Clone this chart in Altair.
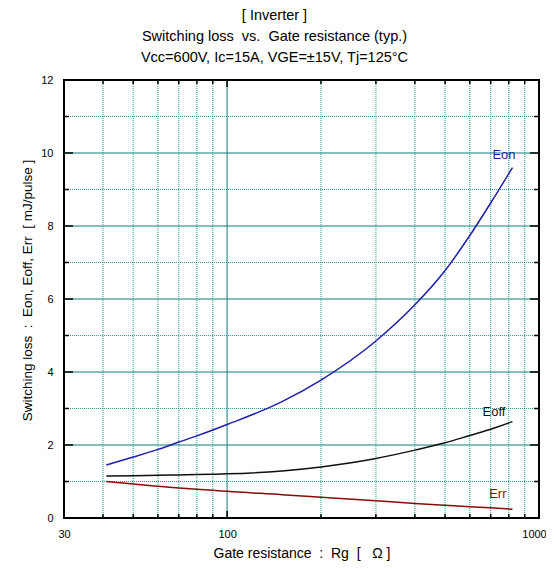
import altair as alt
import pandas as pd

# ---- data ----
rg = [41, 50, 60, 70, 80, 90, 100, 150, 200, 300, 400, 500, 600, 700, 822]
eon = [1.45, 1.67, 1.88, 2.08, 2.25, 2.41, 2.56, 3.19, 3.78, 4.85, 5.84, 6.78, 7.74, 8.63, 9.60]
eoff = [1.15, 1.16, 1.17, 1.18, 1.19, 1.20, 1.21, 1.29, 1.40, 1.63, 1.86, 2.06, 2.26, 2.43, 2.64]
err = [1.00, 0.93, 0.87, 0.82, 0.79, 0.76, 0.73, 0.64, 0.57, 0.47, 0.40, 0.35, 0.31, 0.28, 0.24]

series_names = ["Eon", "Eoff", "Err"]
series_colors = ["#1f1fae", "#111111", "#8b0a0a"]
label_x = [772, 717, 738]
label_y = [9.95, 2.9, 0.66]

x_tick_labels = [30, 100, 1000]
y_tick_labels = [0, 2, 4, 6, 8, 10, 12]
y_major = [2, 4, 6, 8, 10]
y_minor = [1, 3, 5, 7, 9, 11]
x_minor = [40, 50, 60, 70, 80, 90, 200, 300, 400, 500, 600, 700, 800, 900]
x_major = [100]

W, H = 475, 438
FONT = "Liberation Sans"
TEAL = "#0f7f7f"
TEAL_DOT = "#2a9a9a"

rows = []
for name, vals in zip(series_names, [eon, eoff, err]):
    for xv, yv in zip(rg, vals):
        rows.append({"Rg": xv, "E": yv, "series": name})
df = pd.DataFrame(rows)
labels_df = pd.DataFrame({"Rg": label_x, "E": label_y, "series": series_names})

xs = alt.Scale(type="log", domain=[30, 1000], nice=False)
ys = alt.Scale(domain=[0, 12], nice=False, zero=False)
color_scale = alt.Scale(domain=series_names, range=series_colors)

X_AXIS = alt.Axis(values=x_tick_labels, format="d", grid=False, ticks=False, domain=False,
                  labelFlush=False,
                  labelOffset={"condition": {"test": "datum.value >= 1000", "value": -5}, "value": 0},
                  labelFontSize=11, labelFont=FONT, labelColor="black", labelPadding=10,
                  title="Gate resistance\u00a0\u00a0:\u00a0\u00a0Rg\u00a0\u00a0[\u00a0\u00a0\u00a0\u03a9\u00a0]",
                  titleFont=FONT, titleFontSize=14, titleFontWeight="normal",
                  titleColor="black", titlePadding=7)
Y_AXIS = alt.Axis(values=y_tick_labels, grid=False, ticks=False, domain=False,
                  labelFlush=False,
                  labelFontSize=11, labelFont=FONT, labelColor="black", labelPadding=11,
                  title="Switching loss\u00a0\u00a0:\u00a0\u00a0Eon,\u00a0Eoff,\u00a0Err\u00a0\u00a0[\u00a0mJ/pulse\u00a0]",
                  titleFont=FONT, titleFontSize=13.5, titleFontWeight="normal",
                  titleColor="black", titleAngle=270, titleAlign="center",
                  titleBaseline="middle", titleX=-37, titleY=210)

def X(field="Rg:Q"):
    return alt.X(field, scale=xs, axis=X_AXIS)

def Y(field="E:Q"):
    return alt.Y(field, scale=ys, axis=Y_AXIS)

ymaj = pd.DataFrame({"E": y_major})
ymin = pd.DataFrame({"E": y_minor})
xmin = pd.DataFrame({"Rg": x_minor})
xmaj = pd.DataFrame({"Rg": x_major})

h_solid = alt.Chart(ymaj).mark_rule(color=TEAL, strokeWidth=1).encode(y=Y())
h_dot = alt.Chart(ymin).mark_rule(color=TEAL_DOT, strokeWidth=1, strokeDash=[1, 1]).encode(y=Y())
v_dot = alt.Chart(xmin).mark_rule(color=TEAL_DOT, strokeWidth=1, strokeDash=[1, 1]).encode(x=X())
v_solid = alt.Chart(xmaj).mark_rule(color=TEAL, strokeWidth=1).encode(x=X())

def yticks(data, length):
    left = alt.Chart(data).mark_rule(color="black", strokeWidth=1.5).encode(
        y=Y(), x=alt.value(0), x2=alt.value(length))
    right = alt.Chart(data).mark_rule(color="black", strokeWidth=1.5).encode(
        y=Y(), x=alt.value(W), x2=alt.value(W - length))
    return [left, right]

def xticks(data, length):
    bottom = alt.Chart(data).mark_rule(color="black", strokeWidth=1.5).encode(
        x=X(), y=alt.value(H), y2=alt.value(H - length))
    top = alt.Chart(data).mark_rule(color="black", strokeWidth=1.5).encode(
        x=X(), y=alt.value(0), y2=alt.value(length))
    return [bottom, top]

tick_layers = yticks(ymaj, 9) + yticks(ymin, 5) + xticks(xmin, 4) + xticks(xmaj, 7)

lines = alt.Chart(df).mark_line(strokeWidth=1.5, interpolate="monotone").encode(
    x=X(), y=Y(),
    color=alt.Color("series:N", scale=color_scale, legend=None),
    detail="series:N",
)

texts = alt.Chart(labels_df).mark_text(font=FONT, fontSize=13).encode(
    x=X(), y=Y(),
    text="series:N",
    color=alt.Color("series:N", scale=color_scale, legend=None),
)

chart = alt.layer(h_solid, h_dot, v_dot, v_solid, *tick_layers, lines, texts).properties(
    width=W, height=H,
    title=alt.TitleParams(
        text=["[ Inverter ]",
              "Switching loss\u00a0\u00a0vs.\u00a0\u00a0Gate resistance (typ.)",
              "Vcc=600V, Ic=15A, VGE=\u00b115V, Tj=125\u00b0C"],
        font=FONT, fontSize=14.5, fontWeight="normal", color="black",
        lineHeight=21, anchor="middle", dx=-27, offset=9),
    autosize=alt.AutoSizeParams(type="none"),
    padding={"left": 56, "top": 72, "right": 7, "bottom": 43},
).configure_view(stroke="black", strokeWidth=2)

chart.save("out.html", embed_options={"renderer": "svg", "actions": False})
